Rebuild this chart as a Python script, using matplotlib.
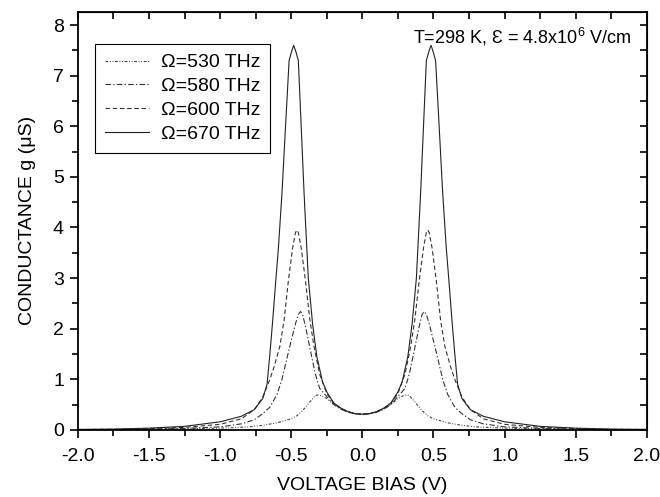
import numpy as np
import matplotlib
matplotlib.use("Agg")
import matplotlib.pyplot as plt
from matplotlib.ticker import MultipleLocator

plt.rcParams['font.family'] = ['Liberation Sans', 'DejaVu Sans']
plt.rcParams['mathtext.fontset'] = 'custom'
plt.rcParams['mathtext.rm'] = 'Liberation Sans'
plt.rcParams['mathtext.default'] = 'rm'

# values (bias in V, conductance in uS)
v530 = [-2.0, -1.75, -1.5, -1.25, -1.0, -0.8, -0.7, -0.6, -0.5, -0.46, -0.42, -0.37, -0.33, -0.31, -0.29,
        -0.25, -0.2, -0.15, -0.1, -0.05, 0.0, 0.05, 0.1, 0.15, 0.2, 0.25, 0.29, 0.31, 0.33, 0.37, 0.42,
        0.46, 0.5, 0.6, 0.7, 0.8, 1.0, 1.25, 1.5, 1.75, 2.0]
g530 = [0.004, 0.006, 0.01, 0.02, 0.035, 0.06, 0.09, 0.14, 0.22, 0.28, 0.38, 0.55, 0.68, 0.69, 0.68,
        0.62, 0.5, 0.41, 0.35, 0.32, 0.31, 0.32, 0.35, 0.41, 0.5, 0.62, 0.68, 0.69, 0.68, 0.55, 0.38,
        0.28, 0.22, 0.14, 0.09, 0.06, 0.035, 0.02, 0.01, 0.006, 0.004]

v580 = [-2.0, -1.75, -1.5, -1.25, -1.0, -0.85, -0.76, -0.7, -0.65, -0.6, -0.565, -0.54, -0.51, -0.47,
        -0.45, -0.435, -0.42, -0.4, -0.36, -0.33, -0.3, -0.25, -0.2, -0.15, -0.1, -0.05, 0.0,
        0.05, 0.1, 0.15, 0.2, 0.25, 0.3, 0.33, 0.36, 0.4, 0.42, 0.435, 0.45, 0.47, 0.51, 0.54,
        0.565, 0.6, 0.65, 0.7, 0.76, 0.85, 1.0, 1.25, 1.5, 1.75, 2.0]
g580 = [0.005, 0.008, 0.015, 0.03, 0.06, 0.12, 0.2, 0.32, 0.45, 0.7, 1.0, 1.3, 1.65, 2.1,
        2.28, 2.34, 2.28, 2.05, 1.5, 1.1, 0.82, 0.66, 0.5, 0.41, 0.35, 0.32, 0.31,
        0.32, 0.35, 0.41, 0.5, 0.66, 0.82, 1.1, 1.5, 2.05, 2.28, 2.34, 2.28, 2.1, 1.65, 1.3,
        1.0, 0.7, 0.45, 0.32, 0.2, 0.12, 0.06, 0.03, 0.015, 0.008, 0.005]

v600 = [-2.0, -1.75, -1.5, -1.25, -1.0, -0.85, -0.76, -0.7, -0.65, -0.62, -0.58, -0.55, -0.52, -0.49,
        -0.47, -0.46, -0.45, -0.43, -0.4, -0.37, -0.34, -0.3, -0.25, -0.2, -0.15, -0.1, -0.05, 0.0,
        0.05, 0.1, 0.15, 0.2, 0.25, 0.3, 0.34, 0.37, 0.4, 0.43, 0.45, 0.46, 0.47, 0.49, 0.52,
        0.55, 0.58, 0.62, 0.65, 0.7, 0.76, 0.85, 1.0, 1.25, 1.5, 1.75, 2.0]
g600 = [0.008, 0.012, 0.025, 0.05, 0.11, 0.22, 0.4, 0.65, 1.0, 1.25, 1.65, 2.17, 2.95, 3.6,
        3.9, 3.95, 3.9, 3.6, 2.95, 2.2, 1.65, 1.1, 0.72, 0.52, 0.42, 0.36, 0.32, 0.31,
        0.32, 0.36, 0.42, 0.52, 0.72, 1.1, 1.65, 2.2, 2.95, 3.6, 3.9, 3.95, 3.9, 3.6, 2.95,
        2.17, 1.65, 1.25, 1.0, 0.65, 0.4, 0.22, 0.11, 0.05, 0.025, 0.012, 0.008]

v670 = [-2.0, -1.75, -1.5, -1.25, -1.0, -0.85, -0.76, -0.7, -0.67, -0.65, -0.63, -0.61, -0.59, -0.565,
        -0.54, -0.515, -0.495, -0.483, -0.47, -0.45, -0.43, -0.41, -0.38, -0.35, -0.32, -0.28, -0.25,
        -0.2, -0.15, -0.1, -0.05, 0.0, 0.05, 0.1, 0.15, 0.2, 0.25, 0.28, 0.32, 0.35, 0.38, 0.41,
        0.43, 0.45, 0.47, 0.483, 0.495, 0.515, 0.54, 0.565, 0.59, 0.61, 0.63, 0.65, 0.67, 0.7,
        0.76, 0.85, 1.0, 1.25, 1.5, 1.75, 2.0]
g670 = [0.01, 0.015, 0.035, 0.07, 0.16, 0.27, 0.4, 0.62, 0.9, 1.5, 2.17, 2.9, 3.6, 4.68,
        6.0, 7.3, 7.5, 7.6, 7.5, 7.3, 6.0, 4.7, 3.0, 2.1, 1.45, 0.95, 0.75,
        0.53, 0.43, 0.36, 0.32, 0.31, 0.32, 0.36, 0.43, 0.53, 0.75, 0.95, 1.45, 2.1, 3.0, 4.7,
        6.0, 7.3, 7.5, 7.6, 7.5, 7.3, 6.0, 4.68, 3.6, 2.9, 2.17, 1.5, 0.9, 0.62,
        0.4, 0.27, 0.16, 0.07, 0.035, 0.015, 0.01]

labels = ['Ω=530 THz', 'Ω=580 THz', 'Ω=600 THz', 'Ω=670 THz']

fig = plt.figure(figsize=(6.6, 4.97), dpi=100)
ax = fig.add_axes([0.118, 0.135, 0.862, 0.841])

ax.plot(v530, g530, color='#444444', lw=0.8, ls=(0, (2.5, 1.5, 0.8, 1.5, 0.8, 1.5)), label=labels[0])
ax.plot(v580, g580, color='#333333', lw=0.8, ls=(0, (5, 2, 1.2, 2)), label=labels[1])
ax.plot(v600, g600, color='#333333', lw=0.8, ls=(0, (4, 2.5)), label=labels[2])
ax.plot(v670, g670, color='#222222', lw=0.8, ls='-', label=labels[3])

ax.set_xlim(-2, 2)
ax.set_ylim(0, 8.26)
ax.xaxis.set_major_locator(MultipleLocator(0.5))
ax.xaxis.set_minor_locator(MultipleLocator(0.25))
ax.yaxis.set_major_locator(MultipleLocator(1))
ax.yaxis.set_minor_locator(MultipleLocator(0.5))
ax.xaxis.set_major_formatter(lambda x, pos: f"{x:.1f}")
ax.tick_params(which='major', direction='out', length=6, width=1.2, labelsize=14, pad=4)
ax.tick_params(axis='x', which='major', pad=7)
ax.tick_params(which='minor', direction='out', length=4, width=1.2)
for s in ax.spines.values():
    s.set_linewidth(1.3)

top = ax.secondary_xaxis('top')
top.set_xticks(np.arange(-2, 2.01, 0.25))
top.tick_params(direction='in', length=5, width=1.2, labeltop=False)
right = ax.secondary_yaxis('right')
right.set_yticks(np.arange(0, 8.3, 0.5))
right.tick_params(direction='in', length=5, width=1.2, labelright=False)

ax.set_xlabel('VOLTAGE BIAS (V)', fontsize=14, labelpad=9)
ax.set_ylabel('CONDUCTANCE g (μS)', fontsize=14, labelpad=12)

ax.text(0.974, 0.94, 'T=298 K, Ɛ = 4.8x10$^{6}$ V/cm', transform=ax.transAxes,
        ha='right', va='center', fontsize=13)

leg = ax.legend(loc='upper left', bbox_to_anchor=(0.03, 0.923), borderaxespad=0,
                fontsize=14, handlelength=2.3, handletextpad=0.6, labelspacing=0.32,
                fancybox=False, edgecolor='black', framealpha=1, borderpad=0.5)
leg.get_frame().set_linewidth(0.8)

fig.savefig('out.png', dpi=100)
